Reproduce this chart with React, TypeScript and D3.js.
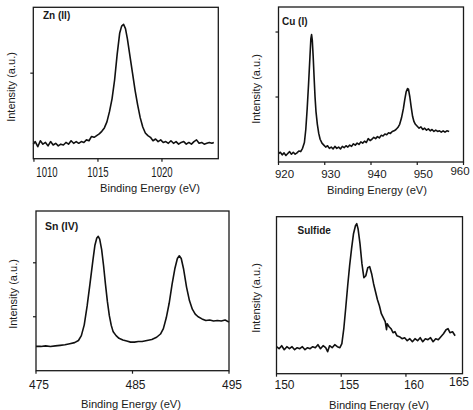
import React from 'react';
import * as d3 from 'd3';

// Zn 2p spectrum
const znEnergy = [
  1009.95, 1010.1, 1010.3, 1010.5, 1010.7, 1010.9, 1011.1, 1011.3, 1011.5, 1011.7, 1011.9,
  1012.1, 1012.3, 1012.5, 1012.7, 1012.9, 1013.1, 1013.3, 1013.5, 1013.7, 1013.9,
  1014.1, 1014.3, 1014.5, 1014.7, 1014.9, 1015.1, 1015.3, 1015.5, 1015.7, 1015.9,
  1016.1, 1016.3, 1016.5, 1016.7, 1016.85, 1017.0, 1017.15, 1017.3, 1017.5, 1017.7, 1017.9,
  1018.1, 1018.3, 1018.5, 1018.7, 1018.9, 1019.1, 1019.3, 1019.5, 1019.7, 1019.9,
  1020.1, 1020.3, 1020.5, 1020.7, 1020.9, 1021.1, 1021.3, 1021.5, 1021.7, 1021.9,
  1022.1, 1022.3, 1022.5, 1022.7, 1022.9, 1023.1, 1023.3, 1023.5, 1023.7, 1023.9, 1024.05,
];
const znIntensity = [
  0.17, 0.2, 0.14, 0.21, 0.17, 0.19, 0.15, 0.2, 0.16, 0.18, 0.15,
  0.17, 0.16, 0.19, 0.17, 0.21, 0.18, 0.2, 0.18, 0.2, 0.19,
  0.22, 0.21, 0.26, 0.25, 0.27, 0.29, 0.32, 0.36, 0.43, 0.55,
  0.7, 0.92, 1.22, 1.47, 1.55, 1.57, 1.52, 1.4, 1.2, 1.0, 0.8,
  0.63, 0.48, 0.37, 0.3, 0.27, 0.25, 0.21, 0.23, 0.2, 0.22,
  0.19, 0.2, 0.18, 0.21, 0.18, 0.2, 0.17, 0.19, 0.2, 0.17,
  0.19, 0.17, 0.2, 0.22, 0.18, 0.19, 0.17, 0.18, 0.19, 0.18, 0.19,
];

// Cu 2p spectrum
const cuEnergy = [
  920.0, 920.4, 920.8, 921.2, 921.6, 922.0, 922.4, 922.8, 923.2, 923.6, 924.0, 924.4, 924.8,
  925.2, 925.6, 925.9, 926.2, 926.5, 926.8, 927.0, 927.15, 927.3, 927.5, 927.7, 927.9,
  928.1, 928.4, 928.7, 929.0, 929.4, 929.8, 930.2, 930.6, 931.0, 931.4, 931.8, 932.2,
  932.6, 933.0, 933.4, 933.8, 934.2, 934.6, 935.0, 935.4, 935.8, 936.2, 936.6, 937.0,
  937.4, 937.8, 938.2, 938.6, 939.0, 939.4, 939.8, 940.2, 940.6, 941.0, 941.4, 941.8,
  942.2, 942.6, 943.0, 943.4, 943.8, 944.2, 944.6, 945.0, 945.4, 945.8, 946.2, 946.6,
  947.0, 947.3, 947.6, 947.9, 948.1, 948.4, 948.7, 949.0, 949.3, 949.6, 950.0, 950.4,
  950.8, 951.2, 951.6, 952.0, 952.4, 952.8, 953.2, 953.6, 954.0, 954.4, 954.8, 955.2,
  955.6, 956.0, 956.4, 956.9,
];
const cuIntensity = [
  0.13, 0.15, 0.11, 0.14, 0.1, 0.13, 0.16, 0.12, 0.15, 0.12, 0.14, 0.17, 0.16,
  0.21, 0.3, 0.5, 0.82, 1.2, 1.62, 1.9, 1.96, 1.88, 1.62, 1.3, 1.0,
  0.78, 0.58, 0.44, 0.35, 0.29, 0.26, 0.23, 0.25, 0.21, 0.23, 0.2, 0.24,
  0.21, 0.23, 0.2, 0.24, 0.22, 0.25, 0.23, 0.26, 0.24, 0.28, 0.26, 0.29,
  0.27, 0.31, 0.29, 0.32, 0.3, 0.36, 0.33, 0.35, 0.38, 0.36, 0.39, 0.37,
  0.41, 0.4, 0.43, 0.42, 0.45, 0.44, 0.47, 0.48, 0.5, 0.53, 0.58, 0.68,
  0.82, 0.96, 1.08, 1.13, 1.12, 1.0, 0.84, 0.7, 0.62, 0.58, 0.55, 0.52,
  0.54, 0.5, 0.52, 0.49, 0.51, 0.48, 0.5, 0.47, 0.49, 0.47, 0.48, 0.46,
  0.48, 0.46, 0.48, 0.47,
];

// Sn 3d spectrum
const snEnergy = [
  475.0, 475.5, 476.0, 476.5, 477.0, 477.5, 478.0, 478.5, 479.0, 479.4, 479.7, 480.0,
  480.3, 480.6, 480.9, 481.1, 481.3, 481.45, 481.6, 481.8, 482.0, 482.2, 482.4, 482.6,
  482.8, 483.0, 483.3, 483.6, 484.0, 484.4, 484.8, 485.2, 485.6, 486.0, 486.5, 487.0,
  487.5, 487.9, 488.2, 488.5, 488.8, 489.1, 489.4, 489.65, 489.85, 490.05, 490.3, 490.6,
  490.9, 491.2, 491.5, 491.8, 492.2, 492.6, 493.0, 493.4, 493.8, 494.2, 494.6, 495.0,
];
const snIntensity = [
  0.45, 0.45, 0.46, 0.45, 0.46, 0.47, 0.48, 0.5, 0.52, 0.56, 0.65, 0.85,
  1.2, 1.62, 2.05, 2.32, 2.46, 2.49, 2.44, 2.25, 1.95, 1.6, 1.28, 1.02,
  0.84, 0.72, 0.65, 0.6, 0.57, 0.55, 0.53, 0.53, 0.54, 0.54, 0.56, 0.58,
  0.62, 0.68, 0.78, 0.98, 1.25, 1.6, 1.9, 2.08, 2.13, 2.08, 1.88, 1.55,
  1.3, 1.14, 1.05, 1.0, 0.96, 0.93, 0.94, 0.92, 0.93, 0.92, 0.94, 0.9,
];

// S 2p spectrum
const sEnergy = [
  150.0, 150.2, 150.4, 150.6, 150.8, 151.0, 151.2, 151.4, 151.6, 151.8, 152.0, 152.2,
  152.4, 152.6, 152.8, 153.0, 153.2, 153.4, 153.6, 153.8, 153.95, 154.1, 154.3, 154.5,
  154.7, 154.9, 155.05, 155.2, 155.35, 155.5, 155.65, 155.8, 155.95, 156.1, 156.2, 156.3,
  156.45, 156.6, 156.75, 156.9, 157.05, 157.2, 157.35, 157.5, 157.65, 157.8, 157.95, 158.1,
  158.25, 158.4, 158.5, 158.55, 158.7, 158.85, 159.0, 159.15, 159.3, 159.5, 159.7, 159.9,
  160.1, 160.3, 160.5, 160.7, 160.9, 161.1, 161.3, 161.5, 161.7, 161.9, 162.1, 162.3,
  162.5, 162.7, 162.9, 163.1, 163.25, 163.4, 163.6, 163.8,
];
const sIntensity = [
  0.27, 0.25, 0.28, 0.24, 0.27, 0.25, 0.27, 0.24, 0.26, 0.25, 0.27, 0.24,
  0.26, 0.25, 0.27, 0.26, 0.29, 0.25, 0.28, 0.26, 0.22, 0.28, 0.26, 0.29,
  0.27, 0.26, 0.3, 0.45, 0.66, 0.88, 1.08, 1.25, 1.4, 1.48, 1.5, 1.45,
  1.3, 1.1, 0.96, 0.98, 1.06, 1.07, 1.0, 0.9, 0.82, 0.74, 0.68, 0.6,
  0.56, 0.52, 0.44, 0.5, 0.47, 0.45, 0.41, 0.42, 0.38, 0.37, 0.35, 0.36,
  0.33, 0.35, 0.32, 0.35, 0.33, 0.36, 0.32, 0.35, 0.34, 0.36, 0.32, 0.35,
  0.34, 0.37, 0.4, 0.44, 0.45, 0.41, 0.42, 0.38,
];

const znTicks = [1010, 1015, 1020];
const cuTicks = [920, 930, 940, 950, 960];
const snTicks = [475, 485, 495];
const sTicks = [150, 155, 160, 165];

const panelTitles = ['Zn (II)', 'Cu (I)', 'Sn (IV)', 'Sulfide'];
const xTitle = 'Binding Energy (eV)';
const yTitle = 'Intensity (a.u.)';

const FONT = '"Liberation Sans", Arial, Helvetica, sans-serif';
const INK = '#1a1a1a';

type Box = { x0: number; x1: number; y0: number; y1: number };

type PanelSpec = {
  title: string;
  energy: number[];
  intensity: number[];
  ticks: number[];
  xDomain: [number, number];
  yDomain: [number, number];
  yTicks: number[];
  box: Box;
  tickFont: number;
  tickScale: [number, number];
  tickBaseline: number;
  tickDx: number;
  clampFirst: boolean;
  pullLast: boolean;
  titlePos: [number, number];
  titleFont: number;
  yLabelPos: [number, number];
  xLabelPos: [number, number];
};

const panels: PanelSpec[] = [
  {
    title: panelTitles[0], energy: znEnergy, intensity: znIntensity, ticks: znTicks,
    xDomain: [1009.95, 1024.4], yDomain: [0, 1.77], yTicks: [1],
    box: { x0: 33.3, x1: 218.3, y0: 7.3, y1: 158.7 },
    tickFont: 12, tickScale: [0.8, 1.15], tickBaseline: 176.5, tickDx: 0,
    clampFirst: true, pullLast: false,
    titlePos: [43, 19], titleFont: 10, yLabelPos: [10.5, 87], xLabelPos: [150, 191.5],
  },
  {
    title: panelTitles[1], energy: cuEnergy, intensity: cuIntensity, ticks: cuTicks,
    xDomain: [920, 960], yDomain: [0, 2.385], yTicks: [1, 2],
    box: { x0: 278.5, x1: 463.5, y0: 7, y1: 162 },
    tickFont: 11.5, tickScale: [1, 1], tickBaseline: 178, tickDx: 6,
    clampFirst: false, pullLast: true,
    titlePos: [282, 25], titleFont: 10, yLabelPos: [256, 89], xLabelPos: [377, 193.5],
  },
  {
    title: panelTitles[2], energy: snEnergy, intensity: snIntensity, ticks: snTicks,
    xDomain: [475, 495], yDomain: [0, 2.96], yTicks: [1, 2],
    box: { x0: 36, x1: 229, y0: 211, y1: 370.7 },
    tickFont: 12, tickScale: [1, 1], tickBaseline: 388.5, tickDx: 3,
    clampFirst: false, pullLast: false,
    titlePos: [45, 230], titleFont: 10.5, yLabelPos: [12.5, 294], xLabelPos: [131, 407.5],
  },
  {
    title: panelTitles[3], energy: sEnergy, intensity: sIntensity, ticks: sTicks,
    xDomain: [150, 164.37], yDomain: [0, 1.57], yTicks: [],
    box: { x0: 276.5, x1: 462.5, y0: 216.7, y1: 373.7 },
    tickFont: 12, tickScale: [1, 1], tickBaseline: 388.5, tickDx: 8,
    clampFirst: false, pullLast: true,
    titlePos: [297.5, 234], titleFont: 10, yLabelPos: [256, 298], xLabelPos: [379, 408.5],
  },
];

function Panel({ p }: { p: PanelSpec }) {
  const { box } = p;
  const x = d3.scaleLinear().domain(p.xDomain).range([box.x0, box.x1]);
  const y = d3.scaleLinear().domain(p.yDomain).range([box.y1, box.y0]);

  const line = d3
    .line<number>()
    .x((_, i) => x(p.energy[i]))
    .y((d) => y(d));

  const halfLabel = (p.tickFont * 0.556 * 4 * p.tickScale[0]) / 2;

  return (
    <g>
      <path d={line(p.intensity) ?? ''} fill="none" stroke="#111" strokeWidth={1.6} strokeLinejoin="round" />
      <rect
        x={box.x0}
        y={box.y0}
        width={box.x1 - box.x0}
        height={box.y1 - box.y0}
        fill="none"
        stroke={INK}
        strokeWidth={1.3}
      />
      {p.ticks.map((t) => {
        const tx = x(t);
        return tx <= box.x1 + 0.5 ? (
          <line key={'t' + t} x1={tx} x2={tx} y1={box.y1} y2={box.y1 + 3} stroke={INK} strokeWidth={1.2} />
        ) : null;
      })}
      {p.yTicks.map((t) => (
        <line key={'y' + t} x1={box.x0 - 3} x2={box.x0} y1={y(t)} y2={y(t)} stroke={INK} strokeWidth={1.2} />
      ))}
      {p.ticks.map((t, i) => {
        let cx = x(t) + p.tickDx;
        let base = p.tickBaseline;
        if (i === 0 && p.clampFirst) cx = Math.max(cx, box.x0 + halfLabel + 3);
        // the last label sits just inside the right edge, a little raised
        if (i === p.ticks.length - 1 && p.pullLast) {
          cx = box.x1 - 3.5;
          base -= 3;
        }
        return (
          <g key={'l' + t} transform={`translate(${cx},${base}) scale(${p.tickScale[0]},${p.tickScale[1]})`}>
            <text textAnchor="middle" fontSize={p.tickFont} fontFamily={FONT} fill={INK}>
              {t}
            </text>
          </g>
        );
      })}
      <text
        x={p.titlePos[0]}
        y={p.titlePos[1]}
        fontSize={p.titleFont}
        fontWeight="bold"
        fontFamily={FONT}
        fill={INK}
      >
        {p.title}
      </text>
      <text
        transform={`translate(${p.yLabelPos[0]},${p.yLabelPos[1]}) rotate(-90)`}
        textAnchor="middle"
        dominantBaseline="central"
        fontSize={11}
        fontFamily={FONT}
        fill={INK}
      >
        {yTitle}
      </text>
      <text
        x={p.xLabelPos[0]}
        y={p.xLabelPos[1]}
        textAnchor="middle"
        fontSize={11.2}
        fontFamily={FONT}
        fill={INK}
      >
        {xTitle}
      </text>
    </g>
  );
}

export default function App() {
  return (
    <svg
      width={473}
      height={410}
      viewBox="0 0 473 410"
      style={{ position: 'absolute', left: 0, top: 0, background: '#fff' }}
    >
      <rect width={473} height={410} fill="#fff" />
      {panels.map((p) => (
        <Panel key={p.title} p={p} />
      ))}
    </svg>
  );
}
